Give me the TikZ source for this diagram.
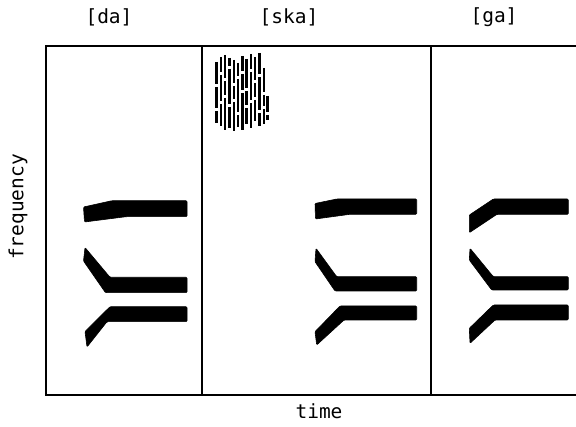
\documentclass[tikz,border=0pt]{standalone}
\usepackage{fontspec}
\setmonofont{DejaVu Sans Mono}
\begin{document}
\begin{tikzpicture}[x=1pt,y=-1pt,
  frameline/.style={line width=1.7pt,black},
  formant/.style={fill=black,draw=black,line width=0.6pt,rounded corners=1pt,line join=round},
  burst/.style={line width=2.4pt,black},
  lbl/.style={font=\ttfamily\fontsize{19.5}{23}\selectfont,inner sep=0pt}]
\useasboundingbox (0,0) rectangle (576,427);

% panel frame
\draw[frameline] (576,46) -- (46,46) -- (46,395) -- (576,395);
\draw[frameline] (202,46) -- (202,395);
\draw[frameline] (431,46) -- (431,395);

% labels
\node[lbl] (da)   at (109,17) {[da]};
\node[lbl] (ska)  at (289,17) {[ska]};
\node[lbl] (ga)   at (494,17) {[ga]};
\node[lbl,rotate=90] (freq) at (18,207) {frequency};
\node[lbl] (time) at (319,411) {time};

% [da] formants
\fill[formant] (83.5,207) -- (112,200.7) -- (187,200.7) -- (187,216.7) -- (126,216.7) -- (84.5,222) -- cycle;
\fill[formant] (85,247.5) -- (110,277.3) -- (187,277.3) -- (187,292.7) -- (105.5,292.7) -- (83.5,261) -- cycle;
\fill[formant] (85,331.5) -- (110,306.7) -- (187,306.7) -- (187,321.7) -- (107,321.7) -- (87,347) -- cycle;

% [ska] formants
\fill[formant] (315,203.5) -- (336.7,199) -- (416.7,199) -- (416.7,214.3) -- (350,214.3) -- (315.5,219) -- cycle;
\fill[formant] (316,248.3) -- (336.7,276.7) -- (416.7,276.7) -- (416.7,291) -- (335,291) -- (315,261.7) -- cycle;
\fill[formant] (315,331.7) -- (340,306) -- (416.7,306) -- (416.7,320) -- (344,320) -- (316.7,345) -- cycle;

% [ga] formants
\fill[formant] (469.3,215) -- (493.3,199) -- (568.3,199) -- (568.3,214.3) -- (497,214.3) -- (469.3,232.7) -- cycle;
\fill[formant] (470,248.3) -- (493.3,276.7) -- (568.3,276.7) -- (568.3,290) -- (491.7,290) -- (469.3,260) -- cycle;
\fill[formant] (469.3,328.3) -- (493.3,305) -- (568.3,305) -- (568.3,320) -- (495,320) -- (470,343.3) -- cycle;

% frication noise at the start of [ska]
\foreach \x/\segs in {
  216.5/{62/84,87/108,111/123},
  220.8/{57/72,75/101,104/126},
  225.1/{55/78,81/95,98/130},
  229.4/{58/66,69/104,107/128},
  233.7/{60/83,86/99,102/131},
  238.0/{63/76,79/112,115/127},
  242.3/{56/71,74/90,93/130},
  246.6/{59/88,91/105,108/124},
  250.9/{54/69,72/100,103/128},
  255.2/{57/80,83/97,100/121},
  259.5/{53/74,77/110,113/126},
  263.8/{68/92,95/106,109/124},
  267.5/{96/112,115/120}} {
  \foreach \ya/\yb in \segs {
    \draw[burst] (\x,\ya) -- (\x,\yb);
  }
}
\end{tikzpicture}
\end{document}
